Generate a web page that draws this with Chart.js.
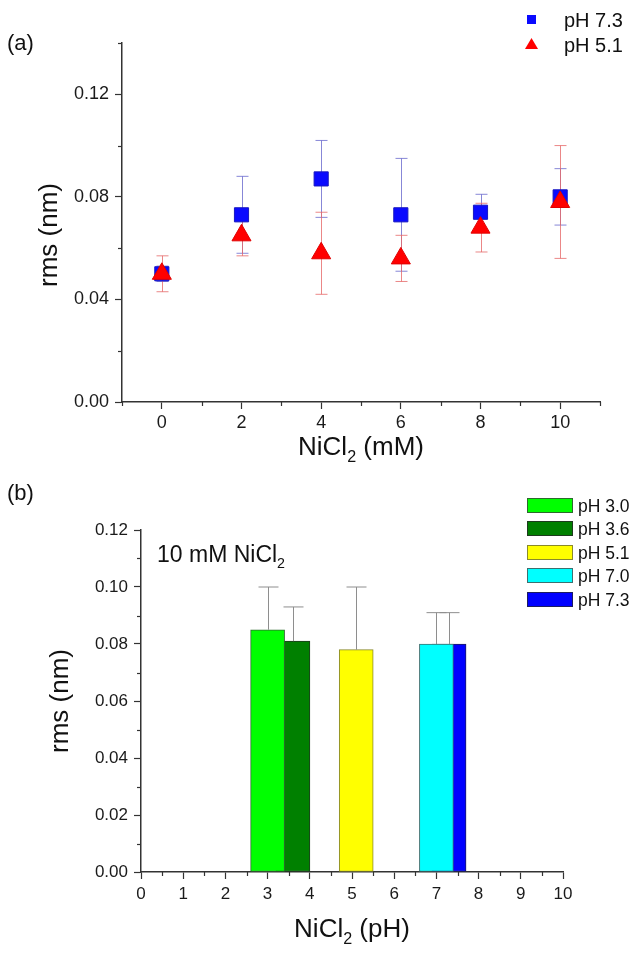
<!DOCTYPE html>
<html>
<head>
<meta charset="utf-8">
<script src="https://cdn.jsdelivr.net/npm/chart.js@4.4.0/dist/chart.umd.min.js"></script>
<style>
  html, body { margin: 0; padding: 0; background: #fff; }
  #wrap { position: relative; width: 641px; height: 957px; overflow: hidden; }
  canvas { position: absolute; left: 0; }
  #chartA { top: 0; }
  #chartB { top: 465px; }
</style>
</head>
<body>
<div id="wrap">
  <canvas id="chartA" width="641" height="475"></canvas>
  <canvas id="chartB" width="641" height="492"></canvas>
</div>
<script>
// (a) rms vs NiCl2 concentration
const conc = [0, 2, 4, 6, 8, 10];
const rms73 = [0.050, 0.073, 0.087, 0.073, 0.074, 0.080];
const err73 = [0.003, 0.015, 0.015, 0.022, 0.007, 0.011];
const rms51 = [0.050, 0.065, 0.058, 0.056, 0.068, 0.078];
const err51 = [0.007, 0.008, 0.016, 0.009, 0.0095, 0.022];

// (b) rms at 10 mM NiCl2 for each pH
const phLabels = ['pH 3.0', 'pH 3.6', 'pH 5.1', 'pH 7.0', 'pH 7.3'];
const phValues = [3.0, 3.6, 5.1, 7.0, 7.3];
const rmsPh = [0.085, 0.081, 0.078, 0.080, 0.080];
const errPh = [0.015, 0.012, 0.022, 0.011, 0.011];
const barColors = ['#00ff00', '#008000', '#ffff00', '#00ffff', '#0000ff'];
const barBorders = ['#2d6a2d', '#1e3a1e', '#8a8a2a', '#3c7070', '#1c1c60'];

const FONT = "'Liberation Sans', Arial, sans-serif";
const AXIS = '#333';

function isMajor(v, step) {
  return Math.abs(v / step - Math.round(v / step)) < 1e-6;
}

// text with a subscript part: parts = [[text, isSub], ...], y is baseline
function drawRich(ctx, parts, x, y, size, align) {
  ctx.save();
  ctx.fillStyle = '#111';
  ctx.textBaseline = 'alphabetic';
  ctx.textAlign = 'left';
  let total = 0;
  parts.forEach(p => {
    ctx.font = (p[1] ? size * 0.62 : size) + 'px ' + FONT;
    total += ctx.measureText(p[0]).width;
  });
  let cx = align === 'center' ? x - total / 2 : x;
  parts.forEach(p => {
    const s = p[1] ? size * 0.62 : size;
    ctx.font = s + 'px ' + FONT;
    ctx.fillText(p[0], cx, p[1] ? y + size * 0.28 : y);
    cx += ctx.measureText(p[0]).width;
  });
  ctx.restore();
}

function drawErrorBars(chart, opts) {
  const ctx = chart.ctx, yScale = chart.scales.y;
  chart.data.datasets.forEach((ds, di) => {
    if (!ds.errors) return;
    const meta = chart.getDatasetMeta(di);
    ctx.save();
    ctx.strokeStyle = ds.errorColor;
    ctx.lineWidth = 1;
    meta.data.forEach((el, j) => {
      const v = ds.data[j].y, e = ds.errors[j];
      const yHi = yScale.getPixelForValue(v + e);
      const yLo = opts.both ? yScale.getPixelForValue(v - e) : el.y;
      const x = Math.round(el.x) + 0.5;
      ctx.beginPath();
      ctx.moveTo(x, yLo); ctx.lineTo(x, yHi);
      ctx.moveTo(x - opts.cap, yHi); ctx.lineTo(x + opts.cap, yHi);
      if (opts.both) { ctx.moveTo(x - opts.cap, yLo); ctx.lineTo(x + opts.cap, yLo); }
      ctx.stroke();
    });
    ctx.restore();
  });
}

const errorBarPlugin = {
  id: 'errorBars',
  beforeDatasetsDraw(chart, args, opts) { if (opts.under) drawErrorBars(chart, opts); },
  afterDatasetsDraw(chart, args, opts) { if (!opts.under) drawErrorBars(chart, opts); }
};

// shorter ticks between the labelled ones
const minorTickPlugin = {
  id: 'minorTicks',
  afterDraw(chart, args, opts) {
    const ctx = chart.ctx;
    ctx.save();
    ctx.strokeStyle = AXIS;
    ctx.lineWidth = 1.2;
    ['x', 'y'].forEach(id => {
      const sc = chart.scales[id];
      sc.ticks.forEach(t => {
        if (isMajor(t.value, opts[id])) return;
        const p = Math.round(sc.getPixelForValue(t.value)) + 0.5;
        ctx.beginPath();
        if (id === 'y') { ctx.moveTo(sc.right - 4, p); ctx.lineTo(sc.right, p); }
        else { ctx.moveTo(p, sc.top); ctx.lineTo(p, sc.top + 4); }
        ctx.stroke();
      });
    });
    ctx.restore();
  }
};

function axisOpts(min, max, step, major, labelFn, fontSize, pad, fit) {
  return {
    type: 'linear', min: min, max: max, offset: false,
    afterFit: fit,
    grid: {
      offset: false,
      drawOnChartArea: false, drawTicks: true, tickLength: 7, tickWidth: 1.2,
      tickColor: c => (c.tick && isMajor(c.tick.value, major)) ? AXIS : 'rgba(0,0,0,0)'
    },
    border: { display: true, color: AXIS, width: 1.5 },
    ticks: {
      stepSize: step, autoSkip: false, maxRotation: 0, padding: pad,
      color: '#1a1a1a', font: { family: FONT, size: fontSize },
      callback: labelFn
    }
  };
}

// ---------- chart (a) ----------
const annotA = {
  id: 'annotA',
  afterDraw(chart) {
    const ctx = chart.ctx;
    drawRich(ctx, [['(a)', false]], 7, 50, 22, 'left');
    drawRich(ctx, [['NiCl', false], ['2', true], [' (mM)', false]], 361, 455, 26, 'center');
    ctx.save();
    ctx.translate(57, 235);
    ctx.rotate(-Math.PI / 2);
    drawRich(ctx, [['rms (nm)', false]], 0, 0, 26, 'center');
    ctx.restore();
    // legend
    const ds = chart.data.datasets;
    ctx.save();
    ctx.fillStyle = ds[0].backgroundColor;
    ctx.fillRect(527, 15, 9, 9);
    ctx.fillStyle = ds[1].backgroundColor;
    ctx.beginPath();
    ctx.moveTo(531.5, 38); ctx.lineTo(538, 49); ctx.lineTo(525, 49); ctx.closePath();
    ctx.fill();
    ctx.restore();
    drawRich(ctx, [[ds[0].label, false]], 564, 27, 20, 'left');
    drawRich(ctx, [[ds[1].label, false]], 564, 52, 20, 'left');
  }
};

new Chart(document.getElementById('chartA'), {
  type: 'scatter',
  data: {
    datasets: [
      {
        label: 'pH 7.3', order: 1,
        data: conc.map((c, i) => ({ x: c, y: rms73[i] })),
        errors: err73, errorColor: 'rgba(105,105,205,0.8)',
        pointStyle: 'rect', pointRadius: 10, pointHoverRadius: 10,
        backgroundColor: '#0a0aff', borderColor: '#1818c0', borderWidth: 1
      },
      {
        label: 'pH 5.1', order: 0,
        data: conc.map((c, i) => ({ x: c, y: rms51[i] })),
        errors: err51, errorColor: 'rgba(230,105,105,0.8)',
        pointStyle: 'triangle', pointRadius: 11, pointHoverRadius: 11,
        backgroundColor: '#ff0000', borderColor: '#e00000', borderWidth: 1
      }
    ]
  },
  options: {
    responsive: false, animation: false, events: [],
    layout: { padding: { top: 43, right: 41, left: 0, bottom: 0 } },
    plugins: {
      legend: { display: false }, tooltip: { enabled: false },
      errorBars: { under: true, both: true, cap: 6 },
      minorTicks: { x: 2, y: 0.04 }
    },
    scales: {
      x: axisOpts(-1, 11, 1, 2, v => (isMajor(v, 2) && v >= 0 && v <= 10) ? String(Math.round(v)) : '',
        18, 3, s => { s.height = 73; }),
      y: axisOpts(0, 0.14, 0.02, 0.04, v => isMajor(v, 0.04) ? v.toFixed(2) : '',
        18, 6, s => { s.width = 122; })
    }
  },
  plugins: [errorBarPlugin, minorTickPlugin, annotA]
});

// ---------- chart (b) ----------
const annotB = {
  id: 'annotB',
  afterDraw(chart) {
    const ctx = chart.ctx;
    drawRich(ctx, [['(b)', false]], 7, 35, 22, 'left');
    drawRich(ctx, [['10 mM NiCl', false], ['2', true]], 157, 97, 23, 'left');
    drawRich(ctx, [['NiCl', false], ['2', true], [' (pH)', false]], 352, 472, 26, 'center');
    ctx.save();
    ctx.translate(68, 236);
    ctx.rotate(-Math.PI / 2);
    drawRich(ctx, [['rms (nm)', false]], 0, 0, 26, 'center');
    ctx.restore();
    // legend boxes
    chart.data.datasets.forEach((ds, i) => {
      const top = Math.round(33 + i * 23.4);
      ctx.save();
      ctx.fillStyle = ds.backgroundColor;
      ctx.strokeStyle = ds.borderColor;
      ctx.lineWidth = 1;
      ctx.fillRect(527, top, 46, 15);
      ctx.strokeRect(527.5, top + 0.5, 45, 14);
      ctx.restore();
      drawRich(ctx, [[ds.label, false]], 578, top + 13.5, 17.5, 'left');
    });
  }
};

new Chart(document.getElementById('chartB'), {
  type: 'bar',
  data: {
    datasets: phLabels.map((lab, i) => ({
      label: lab,
      data: [{ x: phValues[i], y: rmsPh[i] }],
      errors: [errPh[i]], errorColor: '#8e8e8e',
      backgroundColor: barColors[i], borderColor: barBorders[i],
      borderWidth: 1, borderSkipped: false,
      barThickness: 34, grouped: false
    }))
  },
  options: {
    responsive: false, animation: false, events: [],
    layout: { padding: { top: 65, right: 78, left: 0, bottom: 0 } },
    plugins: {
      legend: { display: false }, tooltip: { enabled: false },
      errorBars: { under: false, both: false, cap: 10 },
      minorTicks: { x: 1, y: 0.02 }
    },
    scales: {
      x: axisOpts(0, 10, 0.5, 1, v => isMajor(v, 1) ? String(Math.round(v)) : '',
        17, 5, s => { s.height = 85; }),
      y: axisOpts(0, 0.12, 0.01, 0.02, v => isMajor(v, 0.02) ? v.toFixed(2) : '',
        17, 6, s => { s.width = 141; })
    }
  },
  plugins: [errorBarPlugin, minorTickPlugin, annotB]
});
</script>
</body>
</html>
